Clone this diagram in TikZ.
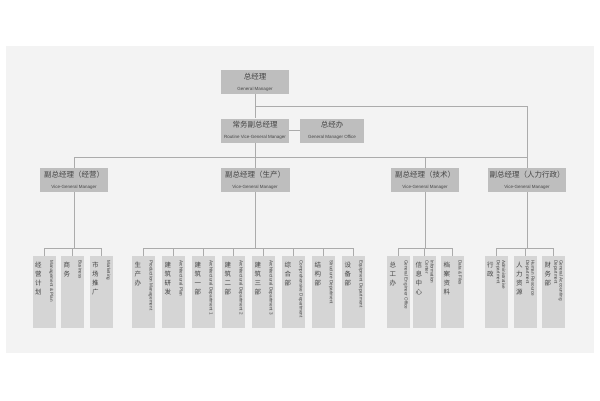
\documentclass[tikz,border=0pt]{standalone}
\usepackage{fontspec}
\setmainfont{Liberation Sans}
\newfontfamily\cjk{Noto Sans CJK SC}
\definecolor{bg}{HTML}{F3F3F3}
\definecolor{boxgray}{HTML}{BEBEBE}
\definecolor{deptgray}{HTML}{D5D5D5}
\definecolor{linegray}{HTML}{ABABAB}
\definecolor{txt}{HTML}{454545}
\newcommand{\cnsize}{\cjk\fontsize{7.5}{8.5}\selectfont}
\newcommand{\ensize}{\fontsize{4.5}{5}\selectfont}
% one department column: name, x, chinese, english
\newcommand{\dept}[4]{%
  \node[dept] (#1) at (#2,256) {};
  \node[cnlabel] (#1-cn) at ([xshift=2.5pt,yshift=-6pt]#1.north west) {#3};
  \node[enlabel] (#1-en) at ([xshift=-2pt,yshift=-4pt]#1.north east) {#4};
}

\begin{document}
\begin{tikzpicture}[x=1pt,y=-1pt,
  mgr/.style={fill=boxgray,minimum height=24pt,inner sep=0pt,align=center,text=txt},
  dept/.style={fill=deptgray,minimum width=23pt,minimum height=72pt,inner sep=0pt,anchor=north},
  cnlabel/.style={anchor=north west,inner sep=0pt,align=center,text=txt,font=\cjk\fontsize{6.5}{9}\selectfont},
  enlabel/.style={rotate=-90,anchor=north west,inner sep=0pt,align=left,text=txt,font=\fontsize{4.6}{5.2}\selectfont},
  conn/.style={draw=linegray,line width=0.8pt}]
\useasboundingbox (0,0) rectangle (600,400);
\fill[bg] (6,46) rectangle (594,353);

\coordinate (topbus) at (0,106);
\coordinate (vpbus) at (0,157);
\coordinate (deptbus) at (0,248);

\node[mgr,minimum width=68pt] (gm) at (255,82) {{\cnsize 总经理}\\[-1pt]{\ensize General Manager}};
\node[mgr,minimum width=68pt] (rvgm) at (255,130.5) {{\cnsize 常务副总经理}\\[-1pt]{\ensize Routine Vice-General Manager}};
\node[mgr,minimum width=64pt] (gmo) at (332,130.5) {{\cnsize 总经办}\\[-1pt]{\ensize General Manager Office}};

\node[mgr,minimum width=68pt] (vp1) at (74,180) {{\cnsize 副总经理（经营）}\\[-1pt]{\ensize Vice-General Manager}};
\node[mgr,minimum width=69pt] (vp2) at (255,180) {{\cnsize 副总经理（生产）}\\[-1pt]{\ensize Vice-General Manager}};
\node[mgr,minimum width=68pt] (vp3) at (425,180) {{\cnsize 副总经理（技术）}\\[-1pt]{\ensize Vice-General Manager}};
\node[mgr,minimum width=78pt] (vp4) at (527,180) {{\cnsize 副总经理（人力行政）}\\[-1pt]{\ensize Vice-General Manager}};

\dept{m1}{44}{经\\营\\计\\划}{Management \& Plan}
\dept{m2}{72.5}{商\\务}{Business}
\dept{m3}{101}{市\\场\\推\\广}{Marketing}

\foreach \i/\cn/\en [evaluate=\i as \x using 143.5+30*\i] in {
  0/生\\产\\办/Production Management,
  1/建\\筑\\研\\发/Architectural Plan,
  2/建\\筑\\一\\部/Architectural Department 1,
  3/建\\筑\\二\\部/Architectural Department 2,
  4/建\\筑\\三\\部/Architectural Department 3,
  5/综\\合\\部/Comprehensive Department,
  6/结\\构\\部/Structure Department,
  7/设\\备\\部/Equipment Department}
  {\dept{p\i}{\x}{\cn}{\en}}

\dept{t1}{398.5}{总\\工\\办}{General Engineer Office}
\dept{t2}{424.5}{信\\息\\中\\心}{Information\\Center}
\dept{t3}{452.5}{档\\案\\资\\料}{Data \& Files}

\dept{h1}{496}{行\\政}{Administrative\\Department}
\dept{h2}{525}{人\\力\\资\\源}{Human Resource\\Department}
\dept{h3}{553.5}{财\\务\\部}{General Accounting\\Department}

% upper lines
\draw[conn] (gm.south) -- (rvgm.north);
\draw[conn] (gm.south |- topbus) -| (vp4.north);
\draw[conn] (rvgm) -- (gmo);
\draw[conn] (rvgm.south) -- (vp2.north);
\draw[conn] (vp1.north) |- (vp4.north |- vpbus);
\draw[conn] (vp3.north) -- (vp3.north |- vpbus);

% department lines
\draw[conn] (vp1.south) -- (vp1.south |- deptbus);
\draw[conn] (m1.north) |- (m3.north |- deptbus) -- (m3.north);
\draw[conn] (m2.north) -- (m2.north |- deptbus);

\draw[conn] (vp2.south) -- (vp2.south |- deptbus);
\draw[conn] (p0.north) |- (p7.north |- deptbus) -- (p7.north);
\foreach \i in {1,...,6}
  \draw[conn] (p\i.north) -- (p\i.north |- deptbus);

\draw[conn] (vp3.south) -- (vp3.south |- deptbus);
\draw[conn] (t1.north) |- (t3.north |- deptbus) -- (t3.north);
\draw[conn] (t2.north) -- (t2.north |- deptbus);

\draw[conn] (vp4.south) -- (vp4.south |- deptbus);
\draw[conn] (h1.north) |- (h3.north |- deptbus) -- (h3.north);
\draw[conn] (h2.north) -- (h2.north |- deptbus);
\end{tikzpicture}
\end{document}
